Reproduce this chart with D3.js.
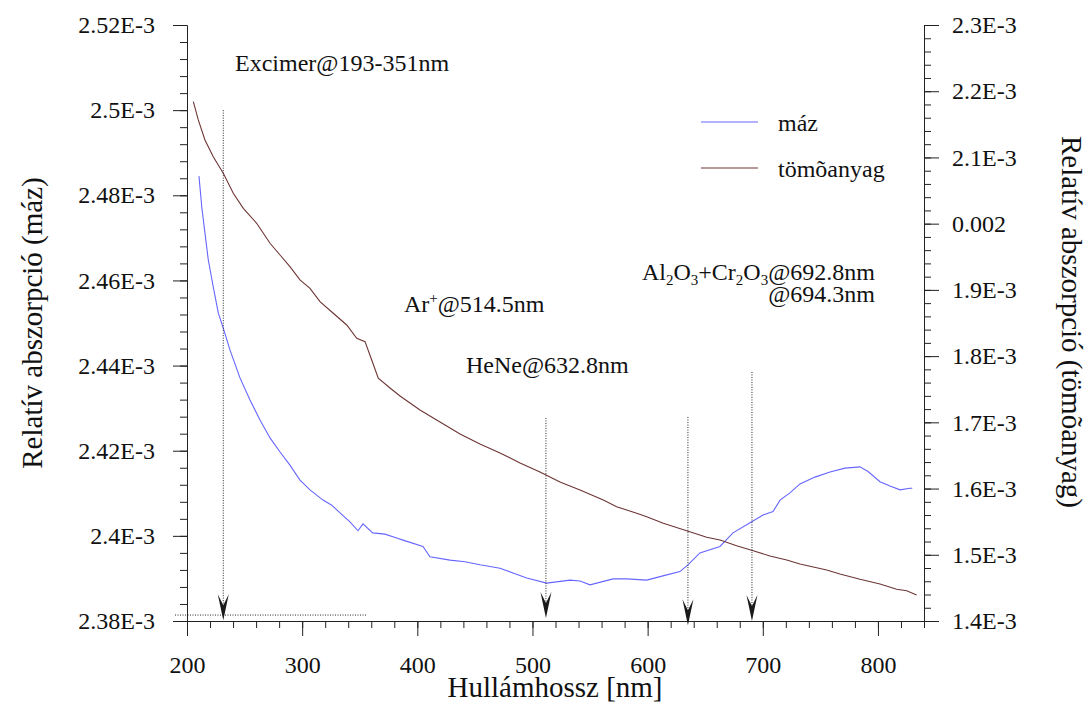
<!DOCTYPE html>
<html>
<head>
<meta charset="utf-8">
<script src="https://cdn.jsdelivr.net/npm/d3@7"></script>
<style>
  body { margin: 0; background: #fff; }
  text { font-family: "Liberation Serif", "Tinos", "Times New Roman", Times, "DejaVu Serif", serif; fill: #111; }
</style>
</head>
<body>
<svg id="chart" width="1090" height="710"></svg>
<script>
const FONT = '"Liberation Serif", "Tinos", "Times New Roman", Times, "DejaVu Serif", serif';

// máz spectrum, left axis (values in units of 1E-3)
const mazNm = [210.4, 212.8, 215.6, 218.5, 222.8, 227.2, 231.5, 237.3, 246.0, 254.7, 263.4, 272.1,
  280.8, 289.4, 298.1, 306.8, 318.1, 325.7, 332.9, 341.5, 348.5, 352.8, 361.3, 371.9, 382.1, 387.6,
  404.9, 411.0, 428.4, 441.4, 454.4, 471.8, 483.1, 495.0, 512.3, 532.6, 541.3, 550.0, 570.0, 581.8,
  599.2, 613.3, 628.1, 635.0, 645.4, 662.8, 674.1, 690.4, 700.2, 708.9, 715.0, 723.6, 732.3, 745.3,
  758.4, 771.4, 784.4, 791.4, 801.8, 810.5, 819.2, 827.8, 829.8];
const mazVal = [2.4845, 2.4773, 2.4711, 2.4648, 2.4585, 2.4523, 2.4488, 2.4437, 2.4371, 2.4319, 2.4272, 2.4230,
  2.4197, 2.4166, 2.4131, 2.4108, 2.4084, 2.4072, 2.4054, 2.4033, 2.4012, 2.4028, 2.4007, 2.4004, 2.3995, 2.3990,
  2.3975, 2.3951, 2.3943, 2.3939, 2.3932, 2.3924, 2.3913, 2.3901, 2.3889, 2.3896, 2.3894, 2.3885, 2.3899, 2.3899,
  2.3896, 2.3906, 2.3916, 2.3932, 2.3960, 2.3975, 2.4007, 2.4033, 2.4049, 2.4057, 2.4084, 2.4101, 2.4122,
  2.4138, 2.4150, 2.4159, 2.4162, 2.4151, 2.4127, 2.4117, 2.4108, 2.4112, 2.4112];

// tömõanyag spectrum, right axis (values in units of 1E-3)
const tomoNm = [205.5, 209.8, 215.6, 222.8, 231.5, 240.2, 248.9, 260.5, 272.1, 280.8, 289.4, 298.1, 306.8,
  315.5, 327.0, 338.7, 347.4, 354.6, 360.4, 366.1, 376.3, 385.0, 402.3, 419.7, 437.1, 454.4, 471.8, 489.2,
  506.5, 523.9, 541.3, 561.5, 573.1, 590.5, 599.2, 613.6, 633.9, 651.3, 662.8, 677.3, 691.7, 706.2, 720.8,
  732.3, 755.5, 767.0, 784.4, 801.8, 816.3, 825.0, 833.6];
const tomoVal = [2.1842, 2.1566, 2.1264, 2.1011, 2.0761, 2.0459, 2.0232, 2.0006, 1.9704, 1.9527, 1.9350, 1.9150, 1.9024,
  1.8822, 1.8647, 1.8470, 1.8269, 1.8218, 1.7941, 1.7665, 1.7519, 1.7398, 1.7186, 1.7005, 1.6824, 1.6673, 1.6537, 1.6386,
  1.6250, 1.6099, 1.5978, 1.5827, 1.5726, 1.5626, 1.5575, 1.5475, 1.5364, 1.5264, 1.5223, 1.5137, 1.5062, 1.4982, 1.4921,
  1.4861, 1.4770, 1.4710, 1.4630, 1.4559, 1.4479, 1.4458, 1.4393];

const xTicks = [200, 300, 400, 500, 600, 700, 800];
const leftTicks = [2.38, 2.40, 2.42, 2.44, 2.46, 2.48, 2.50, 2.52];
const leftLabels = ["2.38E-3", "2.4E-3", "2.42E-3", "2.44E-3", "2.46E-3", "2.48E-3", "2.5E-3", "2.52E-3"];
const rightTicks = [1.4, 1.5, 1.6, 1.7, 1.8, 1.9, 2.0, 2.1, 2.2, 2.3];
const rightLabels = ["1.4E-3", "1.5E-3", "1.6E-3", "1.7E-3", "1.8E-3", "1.9E-3", "0.002", "2.1E-3", "2.2E-3", "2.3E-3"];

// laser lines (nm), arrow top / tip in left-axis units
const arrowNm = [231.5, 511.7, 635.0, 690.6];
const arrowTop = [2.5, 2.4277, 2.4279, 2.4385];
const arrowTip = [2.3802, 2.3807, 2.3790, 2.3800];

const svg = d3.select("#chart");

const x = d3.scaleLinear().domain([200, 840]).range([187, 924]);
const yL = d3.scaleLinear().domain([2.38, 2.52]).range([621, 25]);
const yR = d3.scaleLinear().domain([1.4, 2.3]).range([621, 25]);

// axes
function styleAxis(g) {
  g.attr("font-family", null);
  g.selectAll("path, line").attr("stroke", "#222").attr("stroke-width", 1);
  g.selectAll("text").style("font-size", "24px").attr("fill", "#111").style("font-family", FONT);
}

svg.append("g").attr("transform", "translate(187,0)")
  .call(d3.axisLeft(yL).tickValues(d3.range(36).map(i => 2.38 + i * 0.004)).tickSize(7).tickSizeOuter(0).tickFormat(""))
  .call(styleAxis);
svg.append("g").attr("transform", "translate(187,0)")
  .call(d3.axisLeft(yL).tickValues(leftTicks).tickSize(14).tickSizeOuter(0).tickPadding(18)
    .tickFormat((d, i) => leftLabels[i]))
  .call(styleAxis);

svg.append("g").attr("transform", "translate(924,0)")
  .call(d3.axisRight(yR).tickValues(d3.range(46).map(i => 1.4 + i * 0.02)).tickSize(7).tickSizeOuter(0).tickFormat(""))
  .call(styleAxis);
svg.append("g").attr("transform", "translate(924,0)")
  .call(d3.axisRight(yR).tickValues(rightTicks).tickSize(15).tickSizeOuter(0).tickPadding(13)
    .tickFormat((d, i) => rightLabels[i]))
  .call(styleAxis);

svg.append("g").attr("transform", "translate(0,621)")
  .call(d3.axisBottom(x).tickValues(d3.range(33).map(i => 200 + i * 20)).tickSize(7).tickSizeOuter(0).tickFormat(""))
  .call(styleAxis);
const xAxis = svg.append("g").attr("transform", "translate(0,621)")
  .call(d3.axisBottom(x).tickValues(xTicks).tickSize(15).tickSizeOuter(0).tickPadding(20))
  .call(styleAxis);
xAxis.selectAll("text").attr("dy", "0.71em");

// axis titles
svg.append("text")
  .attr("transform", "translate(42,323) rotate(-90)")
  .attr("text-anchor", "middle")
  .style("font-size", "29px")
  .text("Relatív abszorpció (máz)");
svg.append("text")
  .attr("transform", "translate(1062,322) rotate(90)")
  .attr("text-anchor", "middle")
  .style("font-size", "29px")
  .text("Relatív abszorpció (tömõanyag)");
svg.append("text")
  .attr("x", 555).attr("y", 697)
  .attr("text-anchor", "middle")
  .style("font-size", "29px")
  .text("Hullámhossz [nm]");

// curves
const mazColor = "#6666ff";
const tomoColor = "#6e3535";

svg.append("path")
  .datum(d3.zip(mazNm, mazVal))
  .attr("fill", "none").attr("stroke", mazColor).attr("stroke-width", 1.1)
  .attr("d", d3.line().x(d => x(d[0])).y(d => yL(d[1])));

svg.append("path")
  .datum(d3.zip(tomoNm, tomoVal))
  .attr("fill", "none").attr("stroke", tomoColor).attr("stroke-width", 1.1)
  .attr("d", d3.line().x(d => x(d[0])).y(d => yR(d[1])));

// laser line arrows
arrowNm.forEach((nm, i) => {
  svg.append("line")
    .attr("x1", x(nm)).attr("x2", x(nm))
    .attr("y1", yL(arrowTop[i])).attr("y2", yL(arrowTip[i]) - 10)
    .attr("stroke", "#222").attr("stroke-width", 1).attr("stroke-dasharray", "1,1.5");
  svg.append("path")
    .attr("transform", `translate(${x(nm)},${yL(arrowTip[i])})`)
    .attr("d", "M0,0 L-5.5,-26 L0,-15 L5.5,-26 Z")
    .attr("fill", "#1a1a1a");
});

// horizontal dotted baseline marker
svg.append("line")
  .attr("x1", x(189.6)).attr("x2", x(356.3))
  .attr("y1", yL(2.3814)).attr("y2", yL(2.3814))
  .attr("stroke", "#222").attr("stroke-width", 1).attr("stroke-dasharray", "1,1.5");

// annotations
svg.append("text").attr("x", x(241.7)).attr("y", yL(2.5093))
  .style("font-size", "24px").text("Excimer@193-351nm");

const ar = svg.append("text").attr("x", x(388.4)).attr("y", yL(2.4526)).style("font-size", "24px");
ar.append("tspan").text("Ar");
ar.append("tspan").attr("dy", -9).style("font-size", "15px").text("+");
ar.append("tspan").attr("dy", 9).text("@514.5nm");

svg.append("text").attr("x", x(442.3)).attr("y", yL(2.4383))
  .style("font-size", "24px").text("HeNe@632.8nm");

const al = svg.append("text").attr("x", x(797.4)).attr("y", yL(2.4601))
  .attr("text-anchor", "end").style("font-size", "24px");
[["Al", null], ["2", "sub"], ["O", null], ["3", "sub"], ["+Cr", null], ["2", "sub"], ["O", null], ["3", "sub"], ["@692.8nm", null]]
  .forEach(([t, kind], i, arr) => {
    const prev = i > 0 ? arr[i - 1][1] : null;
    const ts = al.append("tspan").text(t);
    if (kind === "sub") ts.attr("dy", 5).style("font-size", "15px");
    else if (prev === "sub") ts.attr("dy", -5);
  });
svg.append("text").attr("x", x(797.4)).attr("y", yL(2.4549))
  .attr("text-anchor", "end").style("font-size", "24px").text("@694.3nm");

// legend
const legendItems = [["máz", mazColor], ["tömõanyag", tomoColor]];
legendItems.forEach(([name, c], i) => {
  const ly = 122 + i * 46;
  svg.append("line").attr("x1", 701).attr("x2", 758).attr("y1", ly).attr("y2", ly)
    .attr("stroke", c).attr("stroke-width", 1.1);
  svg.append("text").attr("x", 778).attr("y", ly + 9).style("font-size", "24px").text(name);
});
</script>
</body>
</html>
